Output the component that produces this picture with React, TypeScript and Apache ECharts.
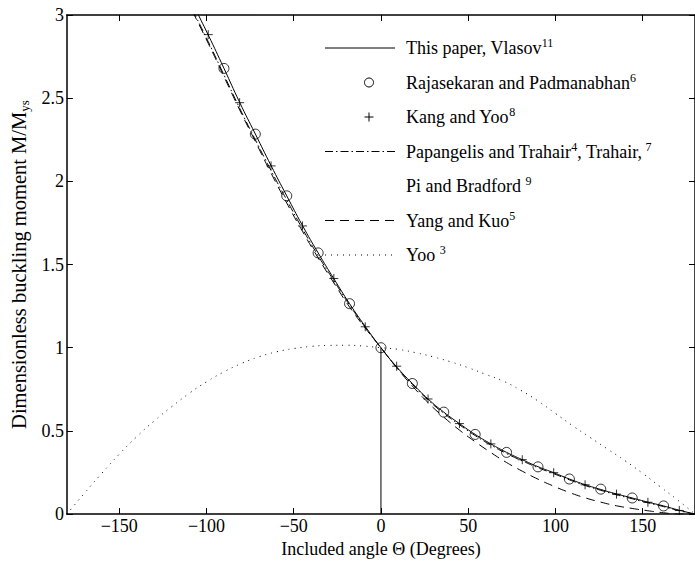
import React, { useEffect, useRef } from 'react';
import * as echarts from 'echarts';

const FONT = "'Liberation Serif', 'Times New Roman', serif";

// Tick labels
const xTicks = [-150, -100, -50, 0, 50, 100, 150];

// Continuous curves (angle in degrees)
const curveX = [-108, -99, -90, -81, -72, -63, -54, -45, -36, -27, -18, -9, 0, 9, 18, 27, 36, 45, 54, 63, 72, 81, 90, 99, 108, 117, 126, 135, 144, 153, 162, 171, 180];
const vlasovY = [3.07, 2.88, 2.68, 2.475, 2.285, 2.095, 1.913, 1.735, 1.57, 1.415, 1.265, 1.128, 1.0, 0.885, 0.785, 0.692, 0.613, 0.544, 0.479, 0.422, 0.371, 0.327, 0.285, 0.249, 0.211, 0.177, 0.148, 0.121, 0.097, 0.072, 0.049, 0.023, 0.0];
const papangelisY = [3.03, 2.84, 2.64, 2.44, 2.25, 2.065, 1.888, 1.715, 1.553, 1.403, 1.257, 1.123, 1.0, 0.882, 0.78, 0.686, 0.606, 0.537, 0.472, 0.415, 0.364, 0.32, 0.279, 0.243, 0.206, 0.172, 0.143, 0.116, 0.092, 0.068, 0.045, 0.02, 0.0];
const yangKuoY = [3.02, 2.83, 2.63, 2.43, 2.24, 2.05, 1.87, 1.7, 1.54, 1.39, 1.245, 1.118, 1.0, 0.88, 0.77, 0.67, 0.583, 0.505, 0.435, 0.37, 0.31, 0.258, 0.21, 0.168, 0.13, 0.098, 0.072, 0.05, 0.034, 0.02, 0.008, 0.0, 0.0];

// Yoo (dotted)
const yooX = [-180, -170, -160, -150, -140, -130, -120, -110, -100, -90, -80, -70, -60, -50, -40, -30, -20, -10, 0, 10, 20, 30, 40, 50, 60, 70, 80, 90, 100, 110, 120, 130, 140, 150, 160, 170, 180];
const yooY = [0, 0.125, 0.245, 0.36, 0.465, 0.56, 0.645, 0.725, 0.795, 0.855, 0.905, 0.945, 0.975, 0.995, 1.008, 1.014, 1.015, 1.01, 1.0, 0.99, 0.97, 0.945, 0.915, 0.88, 0.84, 0.8, 0.745, 0.68, 0.605, 0.53, 0.46, 0.39, 0.32, 0.245, 0.165, 0.085, 0.0];

// Rajasekaran and Padmanabhan (circles)
const rajX = [-90, -72, -54, -36, -18, 0, 18, 36, 54, 72, 90, 108, 126, 144, 162];
const rajY = [2.679, 2.284, 1.913, 1.57, 1.265, 1.0, 0.785, 0.613, 0.479, 0.371, 0.284, 0.211, 0.15, 0.097, 0.049];

// Kang and Yoo (plus)
const kangX = [-99, -81, -63, -45, -27, -9, 9, 27, 45, 63, 81, 99, 117, 135, 153, 171];
const kangY = [2.882, 2.473, 2.093, 1.732, 1.416, 1.126, 0.889, 0.692, 0.544, 0.422, 0.327, 0.249, 0.176, 0.12, 0.071, 0.022];

// Vertical reference line
const refX = [0, 0];
const refY = [0, 1];

const zip = (xs: number[], ys: number[]) => xs.map((x, i) => [x, ys[i]]);

const legendRows = [
  { kind: 'solid', text: '{m|This paper, Vlasov}{s|11}' },
  { kind: 'circle', text: '{m|Rajasekaran and Padmanabhan}{s|6}' },
  { kind: 'plus', text: '{m|Kang and Yoo}{s|8}' },
  { kind: 'dashdot', text: '{m|Papangelis and Trahair}{s|4}{m|, Trahair,}{s| 7}' },
  { kind: 'none', text: '{m|Pi and Bradford }{s|9}' },
  { kind: 'dashed', text: '{m|Yang and Kuo}{s|5}' },
  { kind: 'dotted', text: '{m|Yoo }{s|3}' },
];

const DASHED = [9, 6];
const DASHDOT = [8, 3, 1.5, 3];
const DOTTED = [1, 5];

export default function App() {
  const ref = useRef<HTMLDivElement>(null);

  useEffect(() => {
    if (!ref.current) return;
    const chart = echarts.init(ref.current, undefined, { renderer: 'svg' });

    const rowY0 = 48;
    const rowStep = 34.5;
    const graphic: any[] = [];
    legendRows.forEach((row, i) => {
      const y = rowY0 + i * rowStep;
      const lineStyle = { stroke: '#000', lineWidth: 1 };
      if (row.kind === 'solid') {
        graphic.push({ type: 'line', shape: { x1: 325, y1: y, x2: 395, y2: y }, style: { ...lineStyle } });
      } else if (row.kind === 'dashdot') {
        graphic.push({ type: 'line', shape: { x1: 325, y1: y, x2: 395, y2: y }, style: { ...lineStyle, lineDash: DASHDOT } });
      } else if (row.kind === 'dashed') {
        graphic.push({ type: 'line', shape: { x1: 325, y1: y, x2: 395, y2: y }, style: { ...lineStyle, lineDash: DASHED } });
      } else if (row.kind === 'dotted') {
        graphic.push({ type: 'line', shape: { x1: 325, y1: y, x2: 395, y2: y }, style: { ...lineStyle, lineDash: DOTTED } });
      } else if (row.kind === 'circle') {
        graphic.push({ type: 'circle', shape: { cx: 369, cy: y, r: 4.5 }, style: { fill: 'none', stroke: '#000', lineWidth: 1 } });
      } else if (row.kind === 'plus') {
        graphic.push({ type: 'line', shape: { x1: 364.5, y1: y, x2: 373.5, y2: y }, style: { ...lineStyle } });
        graphic.push({ type: 'line', shape: { x1: 369, y1: y - 4.5, x2: 369, y2: y + 4.5 }, style: { ...lineStyle } });
      }
      graphic.push({
        type: 'text',
        x: 406,
        y,
        style: {
          text: row.text,
          verticalAlign: 'middle',
          align: 'left',
          fill: '#000',
          rich: {
            m: { fontFamily: FONT, fontSize: 18, lineHeight: 22, fill: '#000' },
            s: { fontFamily: FONT, fontSize: 12, lineHeight: 13, verticalAlign: 'top', fill: '#000' },
          },
        },
      });
    });

    const axisLineStyle = { color: '#000', width: 1.5 };
    const tickStyle = { color: '#000', width: 1 };

    chart.setOption({
      animation: false,
      backgroundColor: '#fff',
      textStyle: { fontFamily: FONT },
      grid: { left: 57, top: 15, right: -4, bottom: 41, containLabel: false },
      xAxis: [
        {
          type: 'value',
          min: -180,
          max: 180,
          position: 'bottom',
          name: 'Included angle Θ (Degrees)',
          nameLocation: 'middle',
          nameGap: 22,
          nameTextStyle: { fontFamily: FONT, fontSize: 18, color: '#000' },
          axisLine: { show: true, onZero: false, lineStyle: axisLineStyle },
          axisTick: { show: true, inside: true, length: 6, lineStyle: tickStyle, customValues: xTicks },
          axisLabel: {
            show: true,
            margin: 3,
            fontFamily: FONT,
            fontSize: 18,
            color: '#000',
            customValues: xTicks,
            formatter: (v: number) => String(v).replace('-', '\u2212'),
          },
          splitLine: { show: false },
        },
        {
          type: 'value',
          min: -180,
          max: 180,
          position: 'top',
          axisLine: { show: true, onZero: false, lineStyle: axisLineStyle },
          axisTick: { show: true, inside: true, length: 6, lineStyle: tickStyle, customValues: xTicks },
          axisLabel: { show: false },
          splitLine: { show: false },
        },
      ],
      yAxis: [
        {
          type: 'value',
          min: 0,
          max: 3,
          interval: 0.5,
          position: 'left',
          name: '{a|Dimensionless buckling moment M/M}{b|ys}',
          nameLocation: 'middle',
          nameGap: 19,
          nameRotate: 90,
          nameTextStyle: {
            rich: {
              a: { fontFamily: FONT, fontSize: 20.5, lineHeight: 24, color: '#000' },
              b: { fontFamily: FONT, fontSize: 13, lineHeight: 13, verticalAlign: 'bottom', color: '#000' },
            },
          },
          axisLine: { show: true, onZero: false, lineStyle: axisLineStyle },
          axisTick: { show: true, inside: true, length: 6, lineStyle: tickStyle },
          axisLabel: { show: true, margin: 3, fontFamily: FONT, fontSize: 18, color: '#000' },
          splitLine: { show: false },
        },
        {
          type: 'value',
          min: 0,
          max: 3,
          interval: 0.5,
          position: 'right',
          axisLine: { show: true, onZero: false, lineStyle: axisLineStyle },
          axisTick: { show: true, inside: true, length: 6, lineStyle: tickStyle },
          axisLabel: { show: false },
          splitLine: { show: false },
        },
      ],
      series: [
        {
          name: 'Yoo',
          type: 'line',
          data: zip(yooX, yooY),
          showSymbol: false,
          smooth: true,
          lineStyle: { color: '#000', width: 1, type: DOTTED },
          z: 2,
        },
        {
          name: 'Yang and Kuo',
          type: 'line',
          data: zip(curveX, yangKuoY),
          showSymbol: false,
          smooth: true,
          lineStyle: { color: '#000', width: 1, type: DASHED },
          z: 3,
        },
        {
          name: 'Papangelis and Trahair',
          type: 'line',
          data: zip(curveX, papangelisY),
          showSymbol: false,
          smooth: true,
          lineStyle: { color: '#000', width: 1, type: DASHDOT },
          z: 3,
        },
        {
          name: 'This paper, Vlasov',
          type: 'line',
          data: zip(curveX, vlasovY),
          showSymbol: false,
          smooth: true,
          lineStyle: { color: '#000', width: 1 },
          z: 4,
        },
        {
          name: 'reference',
          type: 'line',
          data: zip(refX, refY),
          showSymbol: false,
          lineStyle: { color: '#000', width: 1 },
          z: 4,
        },
        {
          name: 'Rajasekaran and Padmanabhan',
          type: 'scatter',
          data: zip(rajX, rajY),
          symbol: 'circle',
          symbolSize: 10,
          itemStyle: { color: 'none', borderColor: '#000', borderWidth: 1 },
          z: 5,
        },
        {
          name: 'Kang and Yoo',
          type: 'scatter',
          data: zip(kangX, kangY),
          symbol: 'path://M0,5 L10,5 M5,0 L5,10',
          symbolSize: 9,
          itemStyle: { color: 'none', borderColor: '#000', borderWidth: 1 },
          z: 5,
        },
      ],
      graphic,
    });

    return () => chart.dispose();
  }, []);

  return (
    <div
      ref={ref}
      style={{ position: 'absolute', left: 0, top: 0, width: 695, height: 563, background: '#fff' }}
    />
  );
}
